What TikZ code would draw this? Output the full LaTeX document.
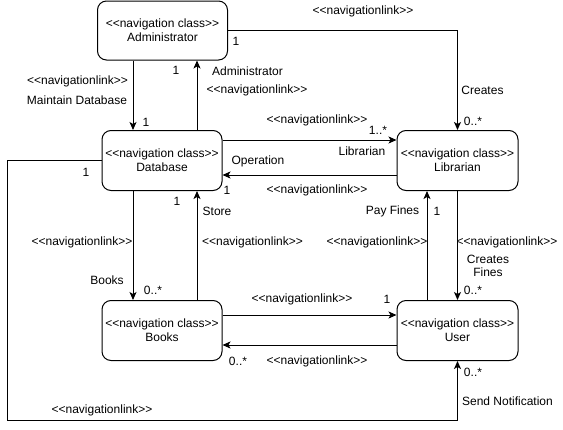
\documentclass[tikz,border=0pt]{standalone}
\usepackage{fontspec}
\setmainfont{Liberation Sans}
\usetikzlibrary{arrows.meta}
\newcommand\navlink{<{}<navigationlink>{}>}
\newcommand\navclass{<{}<navigation class>{}>}
\begin{document}
\begin{tikzpicture}[x=1pt,y=-1pt,
  font=\fontsize{12}{14}\selectfont,
  cls/.style={draw, line width=1pt, rounded corners=9pt, minimum width=120pt, minimum height=60pt, align=center, inner sep=0pt},
  arr/.style={line width=1pt, -{Stealth[length=8pt,width=7pt,inset=2pt]}},
  lbl/.style={inner sep=0pt, anchor=center}]
\useasboundingbox (0,0) rectangle (563,429);
% classes
\node[cls, minimum width=130pt, minimum height=59pt] (adm) at (162.5,30.5) {\navclass\\Administrator};
\node[cls] (db) at (162,160.5) {\navclass\\Database};
\node[cls, minimum width=121pt] (lib) at (457.5,160.5) {\navclass\\Librarian};
\node[cls] (books) at (162,330.5) {\navclass\\Books};
\node[cls, minimum width=121pt] (user) at (457.5,330.5) {\navclass\\User};
% guide coordinates
\coordinate (xL) at (133,0);
\coordinate (xR) at (197,0);
\coordinate (xP) at (427,0);
\coordinate (yA) at (0,30);
\coordinate (yB) at (0,140);
\coordinate (yC) at (0,175);
\coordinate (yD) at (0,315);
\coordinate (yE) at (0,345);
\coordinate (lp) at (7,420);
% connectors
\draw[arr] (adm.south -| xL) -- (db.north -| xL);
\draw[arr] (db.north -| xR) -- (adm.south -| xR);
\draw[arr] (adm.east |- yA) -| (lib.north);
\draw[arr] (db.east |- yB) -- (lib.west |- yB);
\draw[arr] (lib.west |- yC) -- (db.east |- yC);
\draw[arr] (db.south -| xL) -- (books.north -| xL);
\draw[arr] (books.north -| xR) -- (db.south -| xR);
\draw[arr] (books.east |- yD) -- (user.west |- yD);
\draw[arr] (user.west |- yE) -- (books.east |- yE);
\draw[arr] (lib.south) -- (user.north);
\draw[arr] (user.north -| xP) -- (lib.south -| xP);
\draw[arr] (db.west) -| (lp) -| (user.south);
% labels
\node[lbl] (l1) at (77.5,81) {\navlink};
\node[lbl] (l2) at (77,100) {Maintain Database};
\node[lbl] (l3) at (146,122) {1};
\node[lbl] (l4) at (176,70) {1};
\node[lbl] (l5) at (247.5,71) {Administrator};
\node[lbl] (l6) at (257,90) {\navlink};
\node[lbl] (l7) at (236,41) {1};
\node[lbl] (l8) at (363,11) {\navlink};
\node[lbl] (l9) at (482.5,90) {Creates};
\node[lbl] (l10) at (473,121) {0..*};
\node[lbl] (l11) at (317,120) {\navlink};
\node[lbl] (l12) at (378,130) {1..*};
\node[lbl] (l13) at (362,151) {Librarian};
\node[lbl] (l14) at (258,161) {Operation};
\node[lbl] (l15) at (227,190) {1};
\node[lbl] (l16) at (317,190) {\navlink};
\node[lbl] (l17) at (177,201) {1};
\node[lbl] (l18) at (217,211) {Store};
\node[lbl] (l19) at (252.5,242) {\navlink};
\node[lbl] (l20) at (82,242) {\navlink};
\node[lbl] (l21) at (107,280) {Books};
\node[lbl] (l22) at (153,290) {0..*};
\node[lbl] (l23) at (302,299) {\navlink};
\node[lbl] (l24) at (387,299) {1};
\node[lbl] (l25) at (238,361) {0..*};
\node[lbl] (l26) at (317,361) {\navlink};
\node[lbl] (l27) at (392.5,211) {Pay Fines};
\node[lbl] (l28) at (437,211) {1};
\node[lbl] (l29) at (377,242) {\navlink};
\node[lbl] (l30) at (507,242) {\navlink};
\node[lbl, align=center, font=\fontsize{12}{13}\selectfont] (l31) at (488,265.5) {Creates\\Fines};
\node[lbl] (l32) at (473,290) {0..*};
\node[lbl] (l33) at (473,372) {0..*};
\node[lbl] (l34) at (507.5,401) {Send Notification};
\node[lbl] (l35) at (102,410) {\navlink};
\node[lbl] (l36) at (86,172) {1};
\end{tikzpicture}
\end{document}
